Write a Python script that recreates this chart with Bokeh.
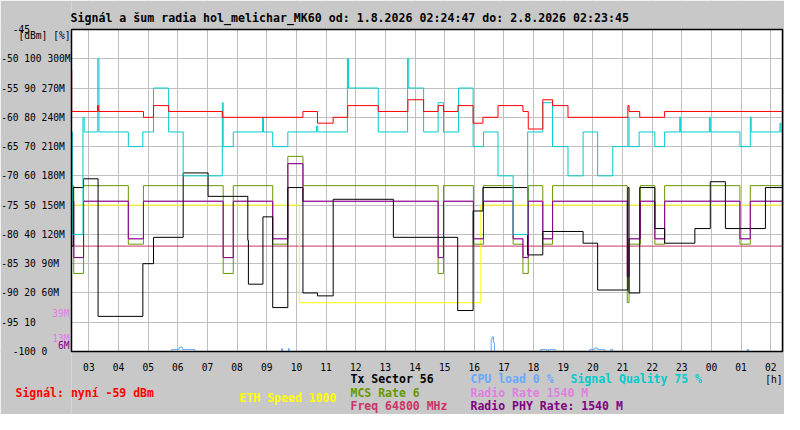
from bokeh.plotting import figure
from bokeh.models import Range1d, FixedTicker, ColumnDataSource, LinearAxis, Grid
from bokeh.core.properties import value
from bokeh.embed import file_html
from bokeh.resources import INLINE

# ---------------- data (hours since 1.8.2026 00:00) ----------------
T_START = 2 + 24 / 60 + 47 / 3600   # 02:24:47
T_END = 26 + 23 / 60 + 45 / 3600    # 02:23:45 next day
DB_MIN, DB_MAX = -100, -45

hour_ticks = list(range(3, 27))
hour_labels = ["%02d" % (h % 24) for h in hour_ticks]

dbm_ticks = list(range(-100, -44, 5))

# Signal [dBm] (red)
signal_t = [T_START, 2.42, 3.29, 3.33, 4.84, 5.18, 5.69, 7.50, 10.22, 10.71, 11.24,
            11.73, 12.76, 13.76, 14.29, 14.78, 14.96, 15.45, 15.96, 16.29, 16.80,
            17.64, 17.82, 18.31, 18.64, 19.16, 21.18, 21.22, 21.58, 22.42]
signal_dbm = [-52, -59, -58, -59, -60, -58, -59, -60, -59, -61, -60,
              -58, -59, -57, -59, -58, -59, -58, -61, -60, -58,
              -59, -62, -57, -58, -60, -58, -59, -60, -59]

# Signal quality [%] (cyan)
quality_t = [T_START, 2.44, 2.80, 2.84, 3.30, 3.34, 4.33, 4.82, 5.18, 5.69, 6.18,
             7.50, 7.53, 7.87, 8.86, 8.89, 9.20, 9.71, 10.68, 10.72, 11.72, 11.76,
             12.76, 13.75, 13.79, 14.29, 14.78, 14.96, 15.47, 15.96, 16.31, 16.80,
             17.31, 17.80, 18.31, 18.64, 19.16, 19.67, 20.16, 20.67, 21.18, 21.22,
             21.56, 22.09, 22.42, 22.93, 22.96, 23.93, 23.96, 24.96, 25.31, 25.34,
             26.31, 26.34]
quality_pct = [75, 40, 80, 75, 100, 75, 70, 75, 90, 75, 60,
               85, 70, 75, 80, 75, 70, 75, 77, 75, 100, 90,
               75, 100, 90, 75, 85, 75, 90, 70, 75, 60,
               40, 75, 85, 70, 60, 75, 60, 70, 80, 70,
               75, 70, 75, 80, 75, 80, 75, 70, 80, 75,
               78, 75]

# Tx sector (black), in chart units
sector_t = [T_START, 2.47, 2.82, 3.31, 4.82, 5.18, 6.18, 7.02, 8.36, 8.38, 8.87,
            9.20, 9.71, 10.22, 10.71, 11.24, 13.27, 15.44, 15.96, 16.29, 17.80,
            18.31, 19.67, 20.16, 21.18, 21.22, 21.58, 22.09, 22.42, 23.44, 23.96,
            24.47, 25.82]
sector_level = [-82, -72, -70.5, -94, -85, -80.5, -69.5, -73.5, -81, -88.5, -77,
                -92.5, -72, -90, -90.5, -74, -80.5, -93, -76, -72, -83.5,
                -79.5, -81.5, -89.5, -72, -90, -72, -79, -81.5, -79, -71,
                -79, -72]

# MCS index (olive) and radio PHY rate [Mbit/s] (purple), same change times
link_t = [T_START, 2.49, 2.82, 4.33, 4.84, 7.53, 7.87, 9.20, 9.71, 10.22, 14.78,
          14.96, 15.97, 16.31, 17.31, 17.64, 17.82, 18.31, 18.64, 21.16, 21.22,
          21.60, 22.09, 22.42, 24.96, 25.31]
mcs_index = [6, 3, 6, 4, 6, 3, 6, 4, 7, 6, 3,
             6, 4, 6, 4, 3, 6, 4, 6, 2, 4,
             6, 4, 6, 4, 6]
phy_rate = [1540, 962.5, 1540, 1155, 1540, 962.5, 1540, 1155, 1925, 1540, 962.5,
            1540, 1155, 1540, 1155, 962.5, 1540, 1155, 1540, 770, 1155,
            1540, 1155, 1540, 1155, 1540]
radio_rate = phy_rate

# ETH speed (yellow), chart units
eth_t = [2.47, 10.10, 16.22]
eth_level = [-75, -91.67, -75]

# Frequency (crimson), chart units
freq_t = [T_START]
freq_level = [-82]

# CPU load [%] (light blue)
cpu_t = [T_START, 5.79, 6.05, 6.15, 6.57, 9.50, 9.53, 9.73, 9.76, 16.57, 16.60,
         16.65, 16.68, 18.23, 18.45, 18.50, 18.73, 19.90, 20.05, 20.15, 20.40,
         20.60, 20.67, 25.20, 25.25]
cpu_pct = [0, 0.7, 1.5, 0.7, 0, 1, 0, 1, 0, 4, 5,
           3, 0, 0.7, 0, 0.7, 0, 0.7, 1.2, 0.7, 0,
           0.7, 0, 0.7, 0]

# extra rate marks on the left scale [M]
rate_marks_light = [39, 13]
rate_marks_dark = [6]

TITLE = "Signál a šum radia hol_melichar_MK60 od: 1.8.2026 02:24:47 do: 2.8.2026 02:23:45"
UNITS_LABEL = "[dBm] [%]"

# legend lines under the chart
legend_text = ["Tx Sector 56", "CPU load 0 %", "Signal Quality 75 %",
               "Signál: nyní -59 dBm", "ETH Speed 1000", "MCS Rate 6",
               "Radio Rate 1540 M", "Freq 64800 MHz", "Radio PHY Rate: 1540 M"]
legend_color = ["#000000", "#66AAFF", "#00CCCC",
                "#FF0000", "#FFFF00", "#669900",
                "#E080E0", "#CC3366", "#800080"]

# ---------------- layout constants (canvas pixels) ----------------
MONO = "DejaVu Sans Mono"
NBSP = "\u00a0"
GRAY = "#C8C8C8"
W, H = 784, 414
PL, PR, PT, PB = 71, 782, 29, 351      # plot box edges

def px2x(px):
    return T_START + (px - PL) / (PR - PL) * (T_END - T_START)

def py2y(py):
    return DB_MAX - (py - PT) / (PB - PT) * (DB_MAX - DB_MIN)

def pct_to_axis(v):
    return v / 2.0 - 100.0

def rate_to_axis(m):      # M on the left rate scale: 6 M per dBm
    return round(m / 6.0 - 100.0, 2)

def steps(t, v):
    return ColumnDataSource(dict(t=list(t) + [T_END], v=list(v) + [v[-1]]))

X_LO, X_HI, Y_LO, Y_HI = px2x(0), px2x(W), py2y(H), py2y(0)

# ---------------- figure: frame spans the whole canvas ----------------
p = figure(width=W, height=H, output_backend="svg", toolbar_location=None,
           title=None, x_range=Range1d(X_LO, X_HI), y_range=Range1d(Y_LO, Y_HI),
           x_axis_type=None, y_axis_type=None,
           min_border_left=0, min_border_right=0, min_border_top=0,
           min_border_bottom=0)
p.background_fill_color = "white"
p.border_fill_color = GRAY
p.outline_line_color = None

# grids
p.add_layout(Grid(dimension=0, ticker=FixedTicker(ticks=hour_ticks),
                  grid_line_color="#C0C0C0", grid_line_width=1))
p.add_layout(Grid(dimension=1, ticker=FixedTicker(ticks=dbm_ticks),
                  grid_line_color="#C0C0C0", grid_line_width=1))

# gray surround outside the plot box (covers the grid there)
p.quad(left=[X_LO, T_START, T_START, T_END],
       right=[T_START, X_HI, X_HI, X_HI],
       bottom=[Y_LO, Y_LO, DB_MAX, DB_MIN],
       top=[Y_HI, DB_MIN, Y_HI, DB_MAX],
       fill_color=GRAY, line_color=None)

# axes pinned to the plot box edges
def style_axis(ax, color="black", size="9.6px", standoff=1):
    ax.axis_line_color = None
    ax.major_tick_line_color = None
    ax.minor_tick_line_color = None
    ax.major_tick_out = 0
    ax.major_tick_in = 0
    ax.minor_tick_out = 0
    ax.minor_tick_in = 0
    ax.major_label_text_font = MONO
    ax.major_label_text_font_size = size
    ax.major_label_text_color = color
    ax.major_label_standoff = standoff

xaxis = LinearAxis(fixed_location=DB_MIN, ticker=FixedTicker(ticks=hour_ticks),
                   major_label_overrides={h: lab for h, lab in zip(hour_ticks, hour_labels)})
style_axis(xaxis, standoff=11)
p.add_layout(xaxis, "below")

ylabels = {}
for d in dbm_ticks:
    if d == -45:
        s = "-45".ljust(10, NBSP)
    elif d >= -90:
        s = ("%d %d %dM" % (d, (d + 100) * 2, (d + 100) * 6)).ljust(12, NBSP)
    elif d == -95:
        s = ("%d %d" % (d, (d + 100) * 2)).ljust(12, NBSP)
    else:
        s = ("%d %d" % (d, (d + 100) * 2)).ljust(10, NBSP)
    ylabels[d] = s
ylabels[-46] = UNITS_LABEL
yaxis = LinearAxis(fixed_location=T_START, ticker=FixedTicker(ticks=dbm_ticks + [-46]),
                   major_label_overrides=ylabels)
style_axis(yaxis, standoff=1)
p.add_layout(yaxis, "left")

ax_light = LinearAxis(fixed_location=T_START,
                      ticker=FixedTicker(ticks=[rate_to_axis(m) for m in rate_marks_light]),
                      major_label_overrides={rate_to_axis(m): "%dM" % m for m in rate_marks_light})
style_axis(ax_light, color="#E080E0", standoff=2)
p.add_layout(ax_light, "left")
ax_dark = LinearAxis(fixed_location=T_START,
                     ticker=FixedTicker(ticks=[rate_to_axis(m) for m in rate_marks_dark]),
                     major_label_overrides={rate_to_axis(m): "%dM" % m for m in rate_marks_dark})
style_axis(ax_dark, color="#800080", standoff=2)
p.add_layout(ax_dark, "left")

# ---------------- series ----------------
p.step("t", "v", source=steps(freq_t, freq_level), mode="after",
       line_color="#CC3366", line_width=1)
p.step("t", "v", source=steps(eth_t, eth_level), mode="after",
       line_color="#FFFF00", line_width=1)
p.step("t", "v", source=steps(link_t, [5 * m - 101.67 for m in mcs_index]),
       mode="after", line_color="#669900", line_width=1)
p.step("t", "v", source=steps(link_t, [r / 60.0 - 100.0 for r in radio_rate]),
       mode="after", line_color="#E080E0", line_width=1)
p.step("t", "v", source=steps(link_t, [r / 60.0 - 100.0 for r in phy_rate]),
       mode="after", line_color="#800080", line_width=1)
p.step("t", "v", source=steps(sector_t, sector_level), mode="after",
       line_color="black", line_width=1)
p.step("t", "v", source=steps(cpu_t, [pct_to_axis(c) for c in cpu_pct]),
       mode="after", line_color="#66AAFF", line_width=1)
p.step("t", "v", source=steps(quality_t, [pct_to_axis(q) for q in quality_pct]),
       mode="after", line_color="#00CCCC", line_width=1)
p.step("t", "v", source=steps(signal_t, signal_dbm), mode="after",
       line_color="#FF0000", line_width=1)

# plot box outline
p.quad(left=[T_START], right=[T_END], bottom=[DB_MIN], top=[DB_MAX],
       fill_color=None, line_color="black", line_width=1.5)

# ---------------- title and legend texts ----------------
p.text(x=[px2x(70)], y=[py2y(17.5)], text=[TITLE], text_color="black",
       text_font=value(MONO), text_font_size=value("11.6px"),
       text_font_style="bold", text_align="left", text_baseline="middle")

leg_px = [350, 470, 570, 15, 239, 350, 470, 350, 470]
leg_py = [378.5, 378.5, 378.5, 392.5, 397.5, 392.5, 392.5, 405.5, 405.5]
p.text(x=[px2x(v) for v in leg_px], y=[py2y(v) for v in leg_py], text=legend_text,
       text_color=legend_color, text_font=value(MONO), text_font_size=value("11.5px"),
       text_font_style="bold", text_align="left", text_baseline="middle")
p.text(x=[px2x(782)], y=[py2y(378.5)], text=["[h]"], text_color="black",
       text_font=value(MONO), text_font_size=value("9.6px"),
       text_align="right", text_baseline="middle")

open("out.html", "w").write(file_html(p, INLINE))
